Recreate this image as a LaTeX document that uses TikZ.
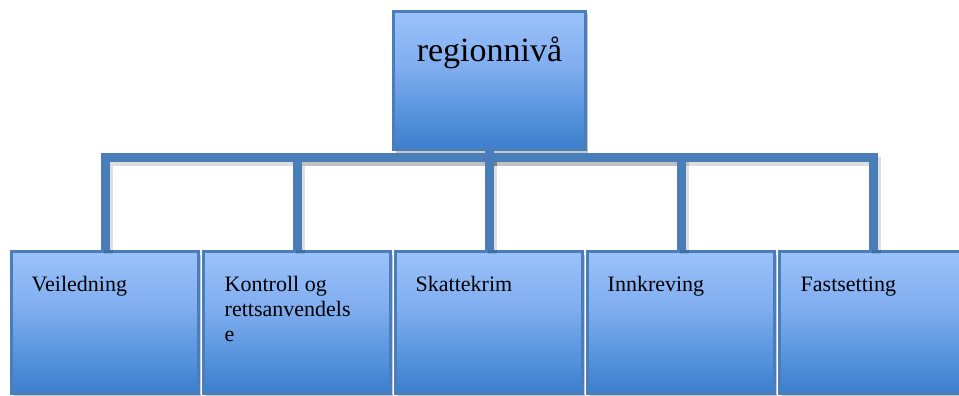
\documentclass[tikz,border=0pt]{standalone}
\usepackage{fontspec}
\setmainfont{Liberation Serif}
\usetikzlibrary{shadows}
\definecolor{edgeblue}{RGB}{74,126,187}
\pgfdeclareverticalshading{boxshade}{100bp}{rgb(0bp)=(0.24,0.49,0.80); rgb(25bp)=(0.24,0.49,0.80); rgb(35bp)=(0.31,0.56,0.85); rgb(55bp)=(0.50,0.68,0.94); rgb(75bp)=(0.61,0.76,0.98); rgb(100bp)=(0.61,0.76,0.98)}
\tikzset{
  orgbox/.style={draw=edgeblue, line width=3pt, shading=boxshade, inner sep=0pt,
    minimum width=187pt, minimum height=142pt,
    drop shadow={shadow xshift=2pt, shadow yshift=-3pt, opacity=0.22, fill=black}},
  conn/.style={draw=edgeblue, line width=9pt, line join=miter},
  connshadow/.style={draw=black, draw opacity=0.13, line width=9pt, line join=miter,
    transform canvas={shift={(3pt,-4pt)}}},
  lbl/.style={anchor=base west, inner sep=0pt, font=\fontsize{22}{25}\selectfont},
  toplbl/.style={anchor=base, inner sep=0pt, font=\fontsize{34}{40}\selectfont}
}
\begin{document}
\begin{tikzpicture}[x=1pt,y=-1pt]
\useasboundingbox (0,0) rectangle (959,396);
\clip (0,0) rectangle (959,396);
% top box
\node[orgbox, minimum width=192pt, minimum height=138pt] (top) at (489.5,80.5) {};
\node[toplbl] (toptext) at (489.5,62) {regionnivå};
% bottom boxes
\node[orgbox] (c1) at (105,322.5) {};
\node[orgbox] (c2) at (297,322.5) {};
\node[orgbox] (c3) at (489,322.5) {};
\node[orgbox] (c4) at (681,322.5) {};
\node[orgbox] (c5) at (873,322.5) {};
% labels
\node[lbl] (t1) at ([xshift=21.5pt,yshift=-41.5pt]c1.north west) {Veiledning};
\node[lbl] (t2) at ([xshift=22.5pt,yshift=-41.5pt]c2.north west) {\begin{tabular}[t]{@{}l@{}}Kontroll og\\rettsanvendels\\e\end{tabular}};
\node[lbl] (t3) at ([xshift=21.5pt,yshift=-41.5pt]c3.north west) {Skattekrim};
\node[lbl] (t4) at ([xshift=21.5pt,yshift=-41.5pt]c4.north west) {Innkreving};
\node[lbl] (t5) at ([xshift=22.5pt,yshift=-41.5pt]c5.north west) {Fastsetting};
% connectors
\foreach \c in {c1,c2,c3,c4,c5}{
  \draw[connshadow] (top.south) -- ++(0,6) -| (\c.north);
}
\foreach \c in {c1,c2,c3,c4,c5}{
  \draw[conn] (top.south) -- ++(0,6) -| (\c.north);
}
\end{tikzpicture}
\end{document}
